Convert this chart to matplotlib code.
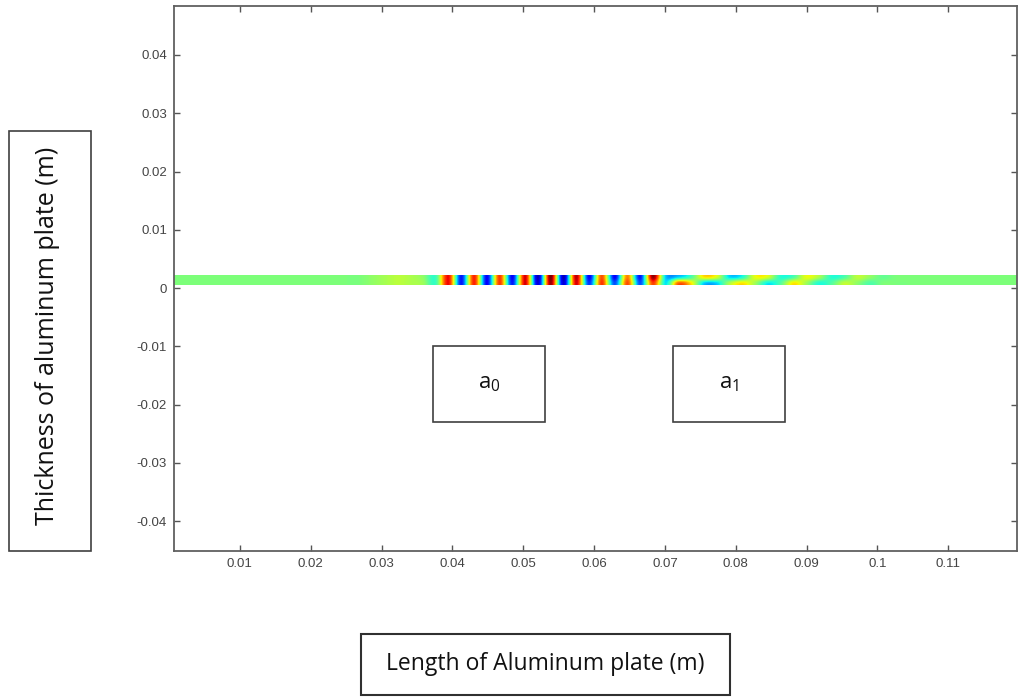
import numpy as np
import matplotlib
matplotlib.use('Agg')
import matplotlib.pyplot as plt
from matplotlib.patches import Rectangle

# plate extent shown in the window (m)
plateXmin, plateXmax = 0.0007, 0.1197
plateYmin, plateYmax = 0.0005, 0.0022

# field in 66 equal cells along the plate
# (normalised, -1..1), upper face and lower face of the plate
topFace = [0.0, 0.0, 0.0, 0.0, 0.0, 0.0, 0.0, 0.0, 0.0, 0.0,
           0.0, 0.0, 0.0, 0.0, 0.0, 0.05, 0.1, 0.15, 0.12, 0.05,
           -0.15, 0.8, -0.7, 0.75, -0.75, 0.7, -0.75, 0.85, -0.9, 1.0,
           -0.9, 0.9, -0.75, 0.65, -0.75, 0.55, -0.7, 0.95, -0.35, -0.3,
           -0.1, 0.3, 0.2, -0.3, -0.2, 0.25, 0.2, -0.2, -0.1, 0.25,
           0.1, -0.2, -0.1, 0.15, 0.05, -0.05, 0.0, 0.0, 0.0, 0.0,
           0.0, 0.0, 0.0, 0.0, 0.0, 0.0]
botFace = [0.0, 0.0, 0.0, 0.0, 0.0, 0.0, 0.0, 0.0, 0.0, 0.0,
           0.0, 0.0, 0.0, 0.0, 0.0, 0.05, 0.1, 0.15, 0.12, 0.08,
           -0.15, 0.8, -0.7, 0.75, -0.75, 0.7, -0.7, 0.85, -0.85, 0.95,
           -0.85, 0.85, -0.65, 0.7, -0.6, 0.65, -0.6, 0.7, -0.3, 0.55,
           0.3, -0.3, -0.3, 0.1, 0.3, 0.1, -0.25, -0.1, 0.3, 0.1,
           -0.2, -0.1, 0.15, 0.05, -0.1, 0.0, 0.0, 0.0, 0.0, 0.0,
           0.0, 0.0, 0.0, 0.0, 0.0, 0.0]

xTicks = [0.01, 0.02, 0.03, 0.04, 0.05, 0.06, 0.07, 0.08, 0.09, 0.1, 0.11]
xTickLabels = ['0.01', '0.02', '0.03', '0.04', '0.05', '0.06', '0.07',
               '0.08', '0.09', '0.1', '0.11']
yTicks = [-0.04, -0.03, -0.02, -0.01, 0, 0.01, 0.02, 0.03, 0.04]
yTickLabels = ['-0.04', '-0.03', '-0.02', '-0.01', '0', '0.01', '0.02',
               '0.03', '0.04']

modeLabels = [r'a$_{\mathregular{0}}$', r'a$_{\mathregular{1}}$']


def main():
    fig = plt.figure(figsize=(10.24, 6.98), dpi=100)
    ax = fig.add_axes([174/1024, 1-551/698, 843/1024, 545/698])

    field = np.array([topFace, botFace])
    ax.imshow(field, cmap='jet', vmin=-1, vmax=1, aspect='auto',
              interpolation='catrom', interpolation_stage='data',
              extent=[plateXmin, plateXmax, plateYmin, plateYmax],
              origin='upper')

    ax.set_xlim(plateXmin, plateXmax)
    ax.set_ylim(-0.0451, 0.0484)
    ax.set_xticks(xTicks)
    ax.set_xticklabels(xTickLabels)
    ax.set_yticks(yTicks)
    ax.set_yticklabels(yTickLabels)
    ax.tick_params(direction='in', top=True, right=True, length=4,
                   width=1, color='#555555', labelsize=9.5,
                   labelcolor='#444444', pad=5)
    for lbl in ax.get_xticklabels() + ax.get_yticklabels():
        lbl.set_family('Liberation Sans')
    for sp in ax.spines.values():
        sp.set_color('#606060')
        sp.set_linewidth(1.3)

    # mode annotation boxes
    boxX = [(433-174)/843, (673-174)/843]
    for bx, lab in zip(boxX, modeLabels):
        ax.add_patch(Rectangle((bx, (551-422)/545), 112/843, 76/545,
                               transform=ax.transAxes, fill=False,
                               edgecolor='#404040', linewidth=1.2))
        ax.text(bx + 56/843, (551-384)/545, lab, transform=ax.transAxes,
                ha='center', va='center', fontsize=16, family='Open Sans',
                color='#111111')

    # boxed axis titles
    fig.patches.append(Rectangle((9/1024, 1-551/698), 82/1024, 420/698,
                                 transform=fig.transFigure, fill=False,
                                 edgecolor='#404040', linewidth=1.2))
    fig.text(48/1024, 1-336/698, 'Thickness of aluminum plate (m)',
             rotation=90, ha='center', va='center', fontsize=18,
             family='Open Sans', color='#111111')
    fig.patches.append(Rectangle((361/1024, 1-695/698), 369/1024, 61/698,
                                 transform=fig.transFigure, fill=False,
                                 edgecolor='#303030', linewidth=1.5))
    fig.text(545/1024, 1-664/698, 'Length of Aluminum plate (m)',
             ha='center', va='center', fontsize=16.5, family='Open Sans',
             color='#111111')

    fig.savefig('out.png', dpi=100)


if (__name__ == "__main__"):
    main()
